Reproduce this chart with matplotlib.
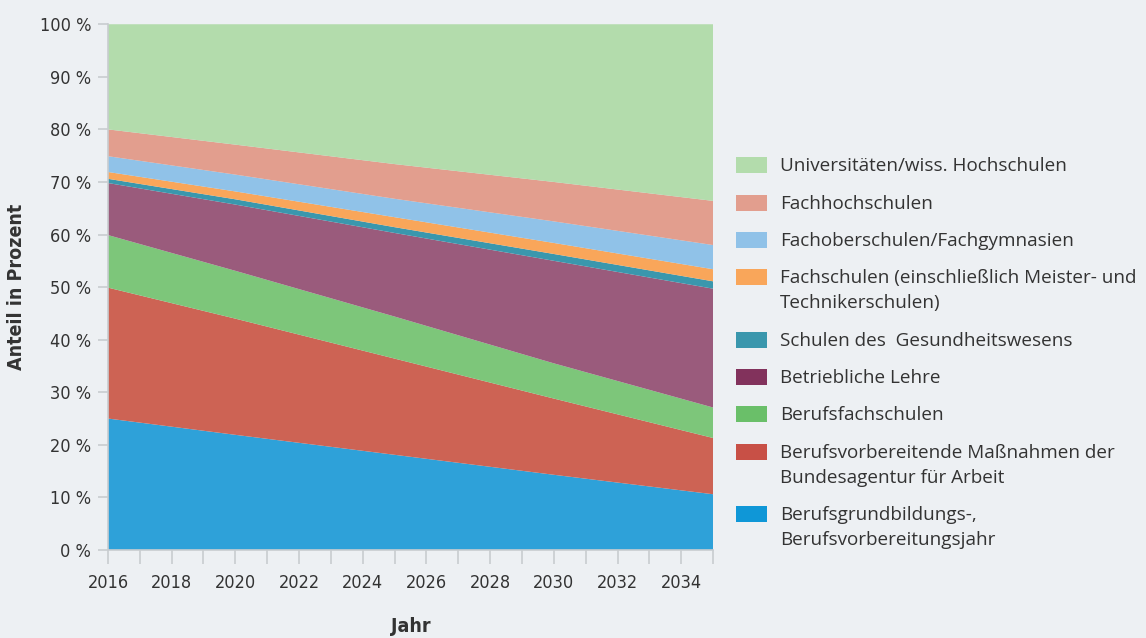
import matplotlib
matplotlib.use("Agg")
import matplotlib.pyplot as plt
from matplotlib.patches import Rectangle
from matplotlib.ticker import MultipleLocator, FuncFormatter
from matplotlib import font_manager

# years read at the drawn points (lines are straight between them)
years = [2016, 2020, 2025, 2030, 2035]

# shares in percent, bottom to top of the stack
grundbildung = [25.0, 21.9, 18.1, 14.3, 10.6]
ba_massnahmen = [24.9, 22.1, 18.3, 14.5, 10.7]
berufsfach = [10.0, 9.1, 8.0, 6.7, 5.8]
betrieb = [9.9, 12.6, 15.9, 19.5, 22.6]
gesundheit = [0.8, 1.0, 1.1, 1.3, 1.4]
fachschulen = [1.3, 1.5, 1.9, 2.1, 2.3]
fachober = [3.0, 3.2, 3.5, 4.1, 4.6]
fachhoch = [5.1, 5.7, 6.6, 7.5, 8.4]
uni = [20.0, 22.9, 26.6, 30.0, 33.6]

series = [grundbildung, ba_massnahmen, berufsfach, betrieb, gesundheit,
          fachschulen, fachober, fachhoch, uni]
area_colors = ["#2ea1d9", "#cd6354", "#7dc67a", "#9a5b7c", "#3a97ad",
               "#f9a65a", "#90c2e8", "#e29e8e", "#b3dcac"]
legend_colors = ["#0f97d7", "#c85046", "#6abf69", "#82325c", "#3a97ad",
                 "#f9a65a", "#90c2e8", "#e29e8e", "#b3dcac"]
labels = ["Berufsgrundbildungs-,\nBerufsvorbereitungsjahr",
          "Berufsvorbereitende Maßnahmen der\nBundesagentur für Arbeit",
          "Berufsfachschulen",
          "Betriebliche Lehre",
          "Schulen des  Gesundheitswesens",
          "Fachschulen (einschließlich Meister- und\nTechnikerschulen)",
          "Fachoberschulen/Fachgymnasien",
          "Fachhochschulen",
          "Universitäten/wiss. Hochschulen"]

bg = "#edf0f3"
text_col = "#333333"

# narrow font for the axes if there is one
names = {f.name for f in font_manager.fontManager.ttflist}
narrow = "Liberation Sans Narrow" if "Liberation Sans Narrow" in names else "DejaVu Sans"
tick_fp = font_manager.FontProperties(family=narrow, stretch="condensed", size=13)
label_fp = font_manager.FontProperties(family=narrow, stretch="condensed",
                                       weight="bold", size=14)

fig = plt.figure(figsize=(11.46, 6.38), dpi=100, facecolor=bg)
ax = fig.add_axes([0.0942, 0.138, 0.528, 0.824])
ax.set_facecolor(bg)

ax.stackplot(years, *series, colors=area_colors, linewidth=0)

ax.set_xlim(2016, 2035)
ax.set_ylim(0, 100)
ax.xaxis.set_major_locator(MultipleLocator(2))
ax.xaxis.set_minor_locator(MultipleLocator(1))
ax.yaxis.set_major_locator(MultipleLocator(10))
ax.yaxis.set_major_formatter(FuncFormatter(lambda v, p: f"{v:.0f} %"))

for s in ["top", "right"]:
    ax.spines[s].set_visible(False)
for s in ["left", "bottom"]:
    ax.spines[s].set_color("#c8ccd0")
    ax.spines[s].set_linewidth(1.2)

ax.tick_params(axis="x", which="both", length=10, color="#c8ccd0", width=1.2,
               labelcolor=text_col, pad=7)
ax.tick_params(axis="y", length=7, color="#c8ccd0", width=1.2,
               labelcolor=text_col, pad=5)
for lab in ax.get_xticklabels() + ax.get_yticklabels():
    lab.set_fontproperties(tick_fp)

ax.set_ylabel("Anteil in Prozent", fontproperties=label_fp, color=text_col,
              labelpad=10)
ax.set_xlabel("Jahr", fontproperties=label_fp, color=text_col, labelpad=18)

# legend drawn by hand, top entry first
legend_y = [165, 203, 240, 277, 340, 377, 414, 452, 514]
W, H = 1146, 638
for i, k in enumerate(range(len(series) - 1, -1, -1)):
    yc = legend_y[i]
    fig.add_artist(Rectangle((736 / W, 1 - (yc + 8) / H), 31 / W, 16 / H,
                             transform=fig.transFigure,
                             facecolor=legend_colors[k], edgecolor="none"))
    fig.text(780 / W, 1 - (yc - 8) / H, labels[k], fontsize=13.6,
             family="Open Sans", color=text_col, va="top", ha="left",
             linespacing=1.5)

fig.savefig("out.png", dpi=100, facecolor=bg)
